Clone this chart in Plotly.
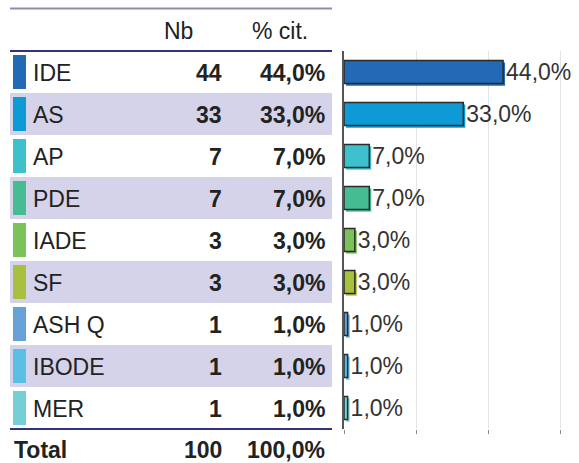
import plotly.graph_objects as go

# Table / chart data
categories = ["IDE", "AS", "AP", "PDE", "IADE", "SF", "ASH Q", "IBODE", "MER"]
counts = [44, 33, 7, 7, 3, 3, 1, 1, 1]
colors = ["#2469b5", "#0e9bd5", "#3ec1cd", "#46bc93", "#7cc25a",
          "#a8c040", "#66a2d8", "#5bbfe5", "#74d0d6"]
header_nb = "Nb"
header_pct = "% cit."
total_label = "Total"

total = sum(counts)
percents = [c / total * 100 for c in counts]


def fmt_pct(v):
    return f"{v:.1f}".replace(".", ",") + "%"


W, H = 579, 463
FONT = "Liberation Sans, Arial, sans-serif"
TXT = "#222222"
FS = 23


def px(x):
    return x / W


def py(y):
    return 1 - y / H


# layout geometry (pixels)
row_top = 51
row_h = 42
tbl_left, tbl_right = 10, 332
plot_left = 344
plot_bottom = row_top + row_h * len(categories)

fig = go.Figure()

bar_w = 0.55
# soft colored shadow behind each bar
fig.add_trace(go.Bar(
    y=categories, x=percents, orientation="h",
    base=0.55, width=bar_w, offset=-bar_w / 2 + 0.05,
    marker=dict(color=colors, line=dict(width=0)),
    hoverinfo="skip", showlegend=False,
))
# main bars with value labels
fig.add_trace(go.Bar(
    y=categories, x=percents, orientation="h",
    width=bar_w, offset=-bar_w / 2,
    marker=dict(color=colors, line=dict(color="#2b2b2b", width=1.5)),
    text=[fmt_pct(p) for p in percents], textposition="outside",
    constraintext="none",
    textfont=dict(family=FONT, size=FS, color="#333333"),
    cliponaxis=False, showlegend=False,
))

shapes = []
annotations = []


def label(x, y, text, anchor):
    annotations.append(dict(x=px(x), y=py(y), xref="paper", yref="paper",
                            text=text, showarrow=False, xanchor=anchor,
                            yanchor="middle", font=dict(family=FONT, size=FS, color=TXT)))


# alternating row shading, color swatches and cell texts
for i, (cat, c, col) in enumerate(zip(categories, counts, colors)):
    top = row_top + i * row_h
    cy = top + row_h / 2 + 1
    if i % 2 == 1:
        shapes.append(dict(type="rect", xref="paper", yref="paper",
                           x0=px(tbl_left), x1=px(tbl_right),
                           y0=py(top + row_h), y1=py(top),
                           fillcolor="#d5d3e9", line=dict(width=0), layer="below"))
    shapes.append(dict(type="rect", xref="paper", yref="paper",
                       x0=px(13), x1=px(26), y0=py(top + 38), y1=py(top + 4),
                       fillcolor=col, line=dict(width=0)))
    label(31, cy, cat, "left")
    label(224, cy, f"<b>{c}</b>", "right")
    label(327, cy, f"<b>{fmt_pct(percents[i])}</b>", "right")

# header
label(178, 31, header_nb, "center")
label(280, 31, header_pct, "center")

# total row
tot_y = 450
label(12, tot_y, f"<b>{total_label}</b>", "left")
label(224, tot_y, f"<b>{total}</b>", "right")
label(327, tot_y, f"<b>{fmt_pct(100.0)}</b>", "right")

# table rules
for y, col in [(8.5, "#8c8cab"), (51, "#33337a"), (plot_bottom, "#33337a")]:
    shapes.append(dict(type="line", xref="paper", yref="paper",
                       x0=px(tbl_left), x1=px(tbl_right), y0=py(y), y1=py(y),
                       line=dict(color=col, width=2)))

fig.update_layout(
    width=W, height=H,
    margin=dict(l=0, r=0, t=0, b=0),
    paper_bgcolor="white", plot_bgcolor="white",
    barmode="overlay",
    shapes=shapes, annotations=annotations,
    xaxis=dict(domain=[px(plot_left), 1], range=[0, 65], dtick=20,
               showgrid=True, gridcolor="#e4e4e4", gridwidth=1,
               zeroline=False, showline=False, showticklabels=False,
               ticks="outside", ticklen=4, tickcolor="#888888", fixedrange=True),
    yaxis=dict(domain=[py(plot_bottom), py(row_top)], range=[8.5, -0.5],
               type="category", showticklabels=False, showgrid=False,
               showline=True, linecolor="#555555", linewidth=1.5,
               ticks="", zeroline=False, fixedrange=True),
    font=dict(family=FONT),
)

fig.write_html("out.html")
